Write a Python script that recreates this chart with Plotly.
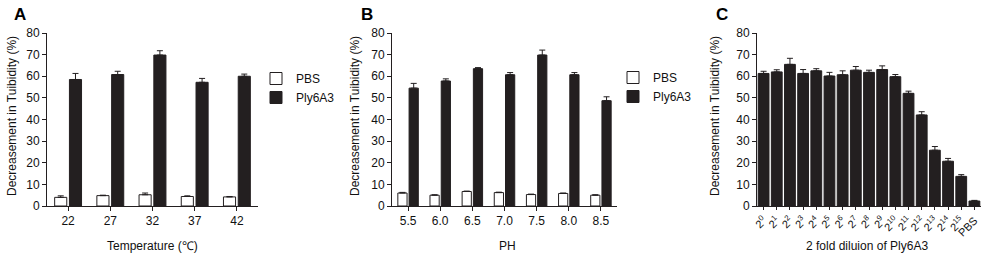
import plotly.graph_objects as go

# ---------------- data ----------------
temp_labels = ["22", "27", "32", "37", "42"]
temp_pbs = [4.0, 4.8, 5.2, 4.4, 4.2]
temp_pbs_err = [0.7, 0.2, 0.8, 0.3, 0.2]
temp_ply = [58.5, 60.8, 69.8, 57.2, 60.0]
temp_ply_err = [2.8, 1.5, 2.0, 1.8, 1.0]

ph_labels = ["5.5", "6.0", "6.5", "7.0", "7.5", "8.0", "8.5"]
ph_pbs = [6.0, 5.0, 6.7, 6.2, 5.3, 5.8, 5.0]
ph_pbs_err = [0.3, 0.2, 0.2, 0.2, 0.2, 0.2, 0.2]
ph_ply = [54.5, 57.8, 63.5, 60.7, 69.8, 60.7, 48.7]
ph_ply_err = [2.2, 1.0, 0.5, 1.0, 2.3, 1.0, 1.8]

dil_labels = ["2<sup>%d</sup>" % i for i in range(16)] + ["PBS"]
dil_values = [61.3, 62.0, 65.5, 61.3, 62.5, 60.1, 60.7, 62.8, 61.8, 63.1,
              59.8, 52.1, 42.1, 25.8, 20.7, 13.7, 2.3]
dil_err = [1.0, 1.0, 2.8, 1.8, 1.0, 1.7, 1.8, 1.7, 1.0, 1.7,
           1.0, 1.0, 1.5, 1.7, 1.3, 0.8, 0.3]

# ---------------- style ----------------
W, H = 1000, 256
DARK = "#231f20"
FONT = "Liberation Sans, Arial, sans-serif"
Y_TITLE = "Decreasement in Tuibidity (%)"

def px(x):
    return x / W

def py(y):
    return 1 - y / H

ydom = [py(206), py(33)]
xdoms = [[px(47), px(258)], [px(392), px(617)], [px(757), px(981)]]

def err(arr):
    return dict(type="data", symmetric=False, array=arr,
                arrayminus=[0] * len(arr), color=DARK, thickness=1, width=3)

fig = go.Figure()

# Panel A
fig.add_trace(go.Bar(x=temp_labels, y=temp_pbs, error_y=err(temp_pbs_err),
                     name="PBS", marker=dict(color="white", line=dict(color=DARK, width=1)),
                     xaxis="x", yaxis="y", legend="legend"))
fig.add_trace(go.Bar(x=temp_labels, y=temp_ply, error_y=err(temp_ply_err),
                     name="Ply6A3", marker=dict(color=DARK, line=dict(color=DARK, width=1)),
                     xaxis="x", yaxis="y", legend="legend"))
# Panel B
fig.add_trace(go.Bar(x=ph_labels, y=ph_pbs, error_y=err(ph_pbs_err),
                     name="PBS", marker=dict(color="white", line=dict(color=DARK, width=1)),
                     xaxis="x2", yaxis="y2", legend="legend2"))
fig.add_trace(go.Bar(x=ph_labels, y=ph_ply, error_y=err(ph_ply_err),
                     name="Ply6A3", marker=dict(color=DARK, line=dict(color=DARK, width=1)),
                     xaxis="x2", yaxis="y2", legend="legend2"))
# Panel C
fig.add_trace(go.Bar(x=dil_labels, y=dil_values, error_y=err(dil_err),
                     name="Ply6A3 dilution", showlegend=False,
                     marker=dict(color=DARK, line=dict(color=DARK, width=1)),
                     xaxis="x3", yaxis="y3", offsetgroup="c", width=0.82))

axis_common = dict(showline=True, linecolor=DARK, linewidth=1, showgrid=False,
                   zeroline=False, ticks="outside", ticklen=4, tickcolor=DARK,
                   automargin=False,
                   tickfont=dict(family=FONT, size=12, color="#111"))

layout = dict(
    width=W, height=H, paper_bgcolor="white", plot_bgcolor="white",
    margin=dict(l=0, r=0, t=0, b=0, pad=0, autoexpand=False),
    barmode="group", bargap=0.3, bargroupgap=0.18,
    font=dict(family=FONT, size=12, color="#111"),
    showlegend=True,
)
anchors = ["y", "y2", "y3"]
xanchors = ["x", "x2", "x3"]
for i in range(3):
    xk = "xaxis" if i == 0 else "xaxis%d" % (i + 1)
    yk = "yaxis" if i == 0 else "yaxis%d" % (i + 1)
    layout[xk] = dict(axis_common, domain=xdoms[i], anchor=anchors[i])
    layout[yk] = dict(axis_common, domain=ydom, anchor=xanchors[i],
                      range=[0, 80], dtick=10)
layout["xaxis3"]["tickangle"] = -45
layout["xaxis3"]["ticklen"] = 3
layout["xaxis3"]["tickmode"] = "linear"
layout["xaxis3"]["tick0"] = 0
layout["xaxis3"]["dtick"] = 1
layout["xaxis3"]["tickfont"] = dict(family=FONT, size=11, color="#111")

leg_common = dict(xanchor="left", yanchor="top", bgcolor="rgba(0,0,0,0)",
                  font=dict(family=FONT, size=12, color="#111"),
                  tracegroupgap=0, itemwidth=30)
layout["legend"] = dict(leg_common, x=px(256), y=py(64))
layout["legend2"] = dict(leg_common, x=px(613), y=py(63))

fig.update_layout(**layout)

ann = []
for xp, letter in [(20, "A"), (367, "B"), (722, "C")]:
    ann.append(dict(x=px(xp), y=py(14), xref="paper", yref="paper", text="<b>%s</b>" % letter,
                    xanchor="center", yanchor="middle",
                    showarrow=False, font=dict(family=FONT, size=17, color="black")))
for xp in [12, 355, 715]:
    ann.append(dict(x=px(xp), y=py(116), xref="paper", yref="paper", text=Y_TITLE,
                    xanchor="center", yanchor="middle",
                    textangle=-90, showarrow=False, font=dict(family=FONT, size=12, color="#111")))
for xp, t in [(152, "Temperature (℃)"), (507, "PH"), (867, "2 fold diluion of Ply6A3")]:
    ann.append(dict(x=px(xp), y=py(246), xref="paper", yref="paper", text=t,
                    xanchor="center", yanchor="middle",
                    showarrow=False, font=dict(family=FONT, size=12, color="#111")))
fig.update_layout(annotations=ann)

fig.write_html("out.html", config={"displayModeBar": False},
               post_script="document.body.style.margin='0';")
